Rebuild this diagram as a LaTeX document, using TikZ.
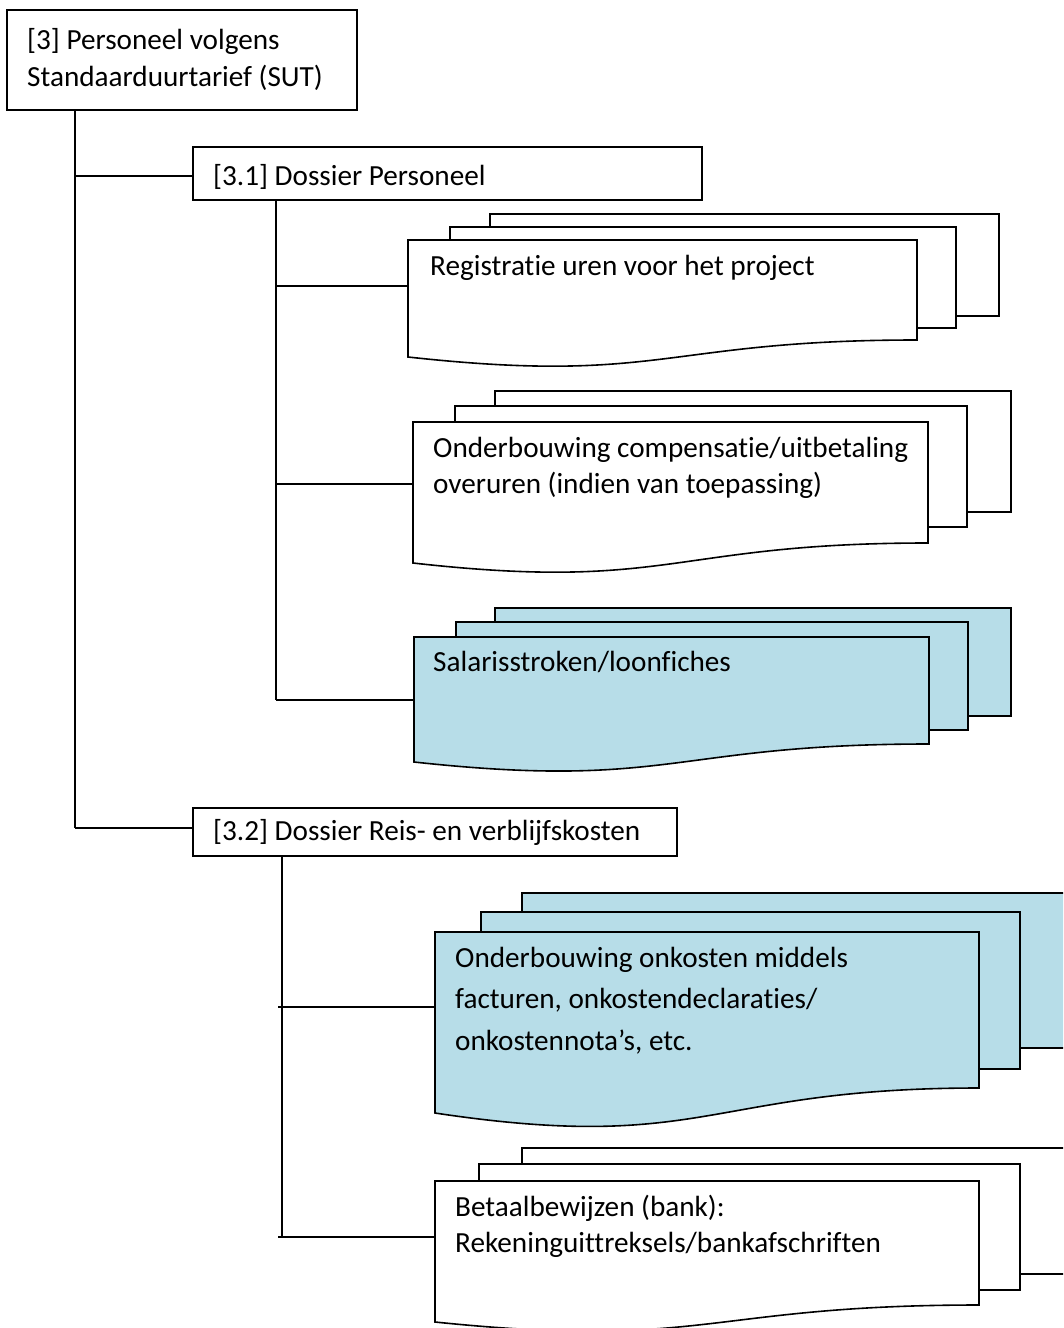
\documentclass[tikz,border=0pt]{standalone}
\usepackage{fontspec}
\setmainfont{Carlito}[Ligatures={NoCommon}]
\usetikzlibrary{fit}
\definecolor{docblue}{HTML}{B7DDE8}
\tikzset{
  conn/.style={line width=1.6pt},
  hbox/.style={draw, line width=1.6pt, rectangle, inner sep=0pt},
  txt/.style={anchor=base west, inner sep=0pt, font=\fontsize{29.2}{36}\selectfont},
  pagesheet/.style={draw, line width=1.6pt, line join=miter},
}
\newcommand\sheetlayer[5]{\filldraw[pagesheet, fill=#1] (#2,#3) rectangle (#4,#5);}
\newcommand\frontdoc[8]{%
  \pgfmathsetmacro\mdocmid{(#3+#5)/2}%
  \filldraw[pagesheet, fill=#2] (#3,#4) -- (#5,#4) -- (#5,#6)
    .. controls (\mdocmid,#6) and (\mdocmid,#8) .. (#3,#7) -- cycle;
  \node[fit={(#3,#4) (#5,#7)}, inner sep=0pt] (#1) {};
}
\begin{document}
\begin{tikzpicture}[x=1pt, y=-1pt]
\useasboundingbox (0,0) rectangle (1063,1328);
\clip (0,0) rectangle (1063,1328);

% header boxes
\node[hbox, fit={(7,10) (357,110)}] (root) {};
\node[txt] (rootA) at (27,49) {[3] Personeel volgens};
\node[txt] (rootB) at (27,86) {Standaarduurtarief (SUT)};

\node[hbox, fit={(193,147) (702,200)}] (d31) {};
\node[txt] (d31t) at (213,185) {[3.1] Dossier Personeel};

\node[hbox, fit={(193,808) (677,856)}] (d32) {};
\node[txt] (d32t) at (213,840) {[3.2] Dossier Reis- en verblijfskosten};

% document stack 1
\sheetlayer{white}{490}{214}{999}{316}
\sheetlayer{white}{450}{227}{956}{328}
\frontdoc{doc1}{white}{408}{240}{917}{340}{357}{385}
\node[txt] (doc1t) at (430,275) {Registratie uren voor het project};

% document stack 2
\sheetlayer{white}{495}{391}{1011}{512}
\sheetlayer{white}{455}{406}{967}{527}
\frontdoc{doc2}{white}{413}{422}{928}{543}{563}{592}
\node[txt] (doc2a) at (433,457) {Onderbouwing compensatie/uitbetaling};
\node[txt] (doc2b) at (433,493) {overuren (indien van toepassing)};

% document stack 3
\sheetlayer{docblue}{495}{608}{1011}{716}
\sheetlayer{docblue}{456}{622}{968}{730}
\frontdoc{doc3}{docblue}{414}{637}{929}{744}{762}{790}
\node[txt] (doc3t) at (433,671) {Salarisstroken/loonfiches};

% document stack 4
\sheetlayer{docblue}{522}{893}{1075}{1048}
\sheetlayer{docblue}{481}{912}{1020}{1069}
\frontdoc{doc4}{docblue}{435}{932}{979}{1088}{1113}{1154}
\node[txt] (doc4a) at (455,967) {Onderbouwing onkosten middels};
\node[txt] (doc4b) at (455,1008) {facturen, onkostendeclaraties/};
\node[txt] (doc4c) at (455,1050) {onkostennota’s, etc.};

% document stack 5
\sheetlayer{white}{522}{1148}{1075}{1274}
\sheetlayer{white}{479}{1164}{1020}{1290}
\frontdoc{doc5}{white}{435}{1181}{979}{1305}{1322}{1350}
\node[txt] (doc5a) at (455,1216) {Betaalbewijzen (bank):};
\node[txt] (doc5b) at (455,1252) {Rekeninguittreksels/bankafschriften};

% connectors
\coordinate (rt) at (75,110);
\coordinate (rj1) at (75,176);
\coordinate (rj2) at (75,828);
\draw[conn] (rt) -- (rj2);
\draw[conn] (rj1) -- (rj1 -| d31.west);
\draw[conn] (rj2) -- (rj2 -| d32.west);

\coordinate (pt) at (276,200);
\coordinate (pj1) at (276,286);
\coordinate (pj2) at (276,484);
\coordinate (pj3) at (276,700);
\draw[conn] (pt) -- (pj3);
\draw[conn] (pj1) -- (pj1 -| doc1.west);
\draw[conn] (pj2) -- (pj2 -| doc2.west);
\draw[conn] (pj3) -- (pj3 -| doc3.west);

\coordinate (qt) at (282,856);
\coordinate (qb) at (282,1237);
\coordinate (qj1) at (278,1007);
\coordinate (qj2) at (278,1237);
\draw[conn] (qt) -- (qb);
\draw[conn] (qj1) -- (qj1 -| doc4.west);
\draw[conn] (qj2) -- (qj2 -| doc5.west);
\end{tikzpicture}
\end{document}
